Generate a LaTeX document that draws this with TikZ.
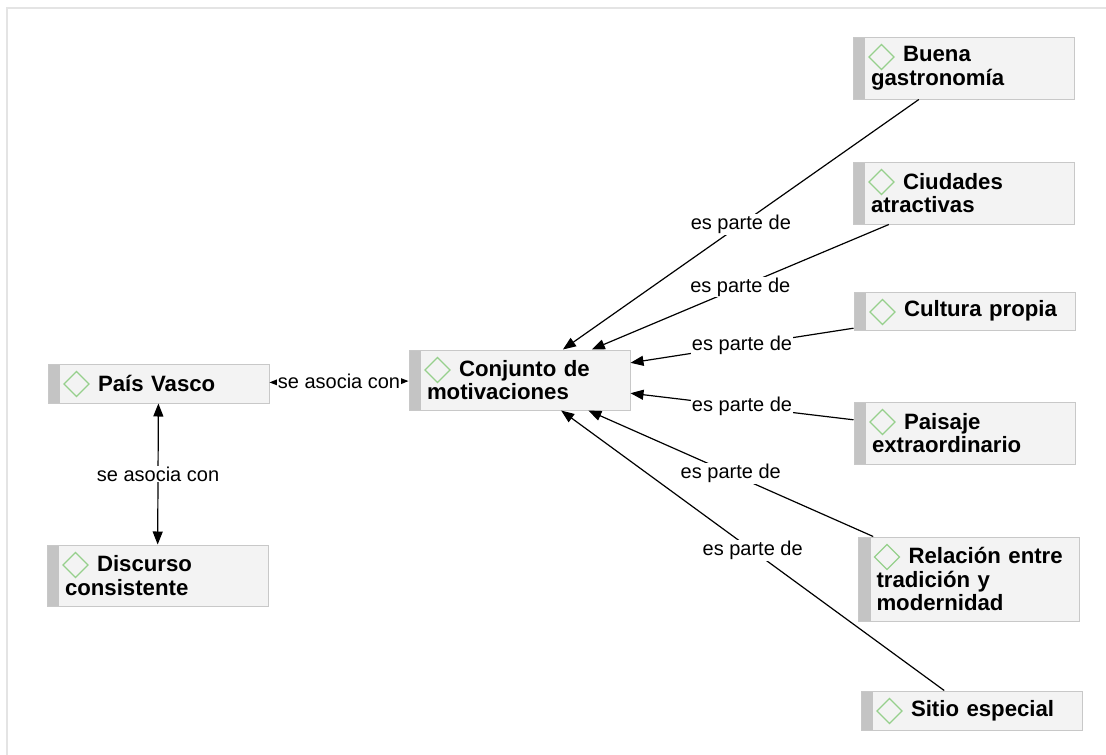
\documentclass[tikz,border=0pt]{standalone}
\usepackage{fontspec}
\setmainfont{Liberation Sans}
\usetikzlibrary{arrows.meta}
\definecolor{boxline}{RGB}{200,200,200}
\definecolor{boxfill}{RGB}{243,243,243}
\definecolor{barfill}{RGB}{196,196,196}
\definecolor{dmdgreen}{RGB}{150,208,140}
\definecolor{frameline}{RGB}{228,228,228}
\tikzset{
  concept/.style={draw=boxline, fill=boxfill, line width=1pt, text width=197pt, inner xsep=12pt, inner ysep=2pt,
    font=\fontsize{22.2}{23.5}\selectfont\bfseries,
    execute at begin node={\leftskip=6pt\hspace*{32pt}},
    path picture={
      \fill[barfill] (path picture bounding box.north west) rectangle ([xshift=12pt]path picture bounding box.south west);
      \draw[dmdgreen, line width=1.3pt] ([xshift=16pt,yshift=-20pt]path picture bounding box.north west) -- ++(12.5pt,12.5pt) -- ++(12.5pt,-12.5pt) -- ++(-12.5pt,-12.5pt) -- cycle;
    }},
  link/.style={->, line width=1.2pt},
  rel/.style={fill=white, inner sep=1pt, font=\fontsize{20}{22}\selectfont},
}
\begin{document}
\begin{tikzpicture}[x=1pt, y=-1pt, >={Triangle[length=13pt,width=10pt]}]
    \fill[white] (0,0) rectangle (1106,755);
    \useasboundingbox (0,0) rectangle (1106,755);
    \draw[frameline, line width=2pt] (7,755) -- (7,8) -- (1106,8);

    \node[concept, minimum height=39pt] (pv) at (158.5,383.5) {País Vasco};
    \node[concept, minimum height=61pt] (dc) at (157.5,575.5) {Discurso\\consistente};
    \node[concept, minimum height=60pt] (cm) at (519.5,380) {Conjunto de\\motivaciones};
    \node[concept, minimum height=62pt] (bg) at (963.5,68) {Buena\\gastronomía};
    \node[concept, minimum height=62pt] (ca) at (963.5,193) {Ciudades\\atractivas};
    \node[concept, minimum height=38pt] (cp) at (964.5,311) {Cultura propia};
    \node[concept, minimum height=62pt] (pe) at (964.5,433) {Paisaje\\extraordinario};
    \node[concept, minimum height=84pt] (rt) at (969,579) {Relación entre\\tradición y\\modernidad};
    \node[concept, minimum height=39pt] (se) at (971.5,710.5) {Sitio especial};

    \draw[link] (bg) -- node[rel] {es parte de} (cm);
    \draw[link] (ca) -- node[rel] {es parte de} (cm);
    \draw[link] (cp) -- node[rel] {es parte de} (cm);
    \draw[link] (pe) -- node[rel] {es parte de} (cm);
    \draw[link] (rt) -- node[rel] {es parte de} (cm);
    \draw[link] (se) -- node[rel] {es parte de} (cm);

    \draw[<->, line width=1.2pt] (pv) -- node[rel] {se asocia con} (cm);
    \draw[<->, line width=1.2pt] (pv) -- node[rel] {se asocia con} (dc);
\end{tikzpicture}
\end{document}
